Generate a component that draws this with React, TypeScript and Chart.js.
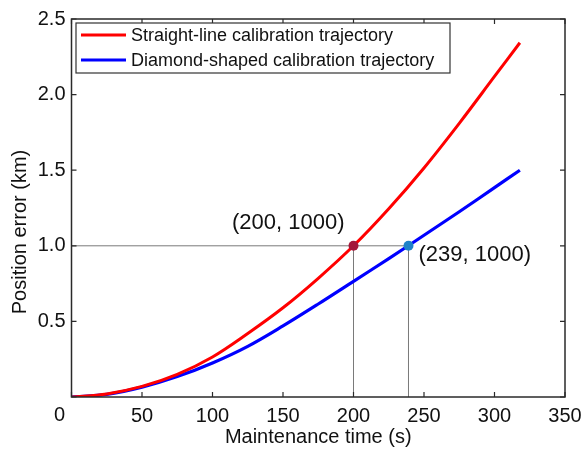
import React, { useEffect, useRef } from "react";
import { Chart, registerables } from "chart.js";

Chart.register(...registerables);

const timeRed = [0, 25, 50, 75, 100, 125, 150, 175, 200, 225, 250, 275, 300, 318];
const errRed = [0, 0.02, 0.07, 0.15, 0.265, 0.42, 0.59, 0.785, 1.0, 1.245, 1.515, 1.81, 2.12, 2.343];
const timeBlue = [0, 25, 50, 75, 100, 125, 150, 175, 200, 225, 250, 275, 300, 318];
const errBlue = [0, 0.017, 0.065, 0.135, 0.225, 0.335, 0.47, 0.615, 0.765, 0.915, 1.07, 1.225, 1.385, 1.5];
const markerTimes = [200, 239];
const markerErr = [1.0, 1.0];
const markerLabels = ["(200, 1000)", "(239, 1000)"];
const seriesNames = ["Straight-line calibration trajectory", "Diamond-shaped calibration trajectory"];
const xTicks = [0, 50, 100, 150, 200, 250, 300, 350];
const yTicks = [0, 0.5, 1.0, 1.5, 2.0, 2.5];

const FONT = "'Liberation Sans', Arial, sans-serif";

const decorPlugin = {
  id: "decor",
  afterDraw(chart: any) {
    const { ctx, chartArea, scales } = chart;
    const xs = scales.x;
    const ys = scales.y;
    const { left, right, top, bottom } = chartArea;
    ctx.save();
    ctx.strokeStyle = "#2a2a2a";
    ctx.lineWidth = 1.5;
    ctx.strokeRect(left, top, right - left, bottom - top);
    ctx.lineWidth = 1.2;
    const tl = 5;
    ctx.beginPath();
    xTicks.forEach((v) => {
      const px = xs.getPixelForValue(v);
      ctx.moveTo(px, bottom);
      ctx.lineTo(px, bottom - tl);
      ctx.moveTo(px, top);
      ctx.lineTo(px, top + tl);
    });
    yTicks.forEach((v) => {
      const py = ys.getPixelForValue(v);
      ctx.moveTo(left, py);
      ctx.lineTo(left + tl, py);
      ctx.moveTo(right, py);
      ctx.lineTo(right - tl, py);
    });
    ctx.stroke();

    ctx.fillStyle = "#111111";
    ctx.font = `20px ${FONT}`;
    ctx.textAlign = "center";
    ctx.textBaseline = "middle";
    ctx.fillText("0", xs.getPixelForValue(0) - 12, bottom + 18);

    ctx.fillText("Maintenance time (s)", (left + right) / 2, 437);
    ctx.save();
    ctx.translate(20, 232);
    ctx.rotate(-Math.PI / 2);
    ctx.fillText("Position error (km)", 0, 0);
    ctx.restore();

    ctx.font = `22px ${FONT}`;
    const p0x = xs.getPixelForValue(markerTimes[0]);
    const p0y = ys.getPixelForValue(markerErr[0]);
    ctx.textAlign = "right";
    ctx.fillText(markerLabels[0], p0x - 9, p0y - 23);
    const p1x = xs.getPixelForValue(markerTimes[1]);
    const p1y = ys.getPixelForValue(markerErr[1]);
    ctx.textAlign = "left";
    ctx.fillText(markerLabels[1], p1x + 10, p1y + 9);

    const lx = left + 4.5, ly = top + 4, lw = 374, lh = 50;
    ctx.fillStyle = "#ffffff";
    ctx.fillRect(lx, ly, lw, lh);
    ctx.strokeStyle = "#333333";
    ctx.lineWidth = 1.2;
    ctx.strokeRect(lx, ly, lw, lh);
    ctx.font = `18px ${FONT}`;
    ctx.textAlign = "left";
    ctx.textBaseline = "middle";
    const legendDs = [chart.data.datasets[2], chart.data.datasets[3]];
    legendDs.forEach((ds: any, i: number) => {
      const ry = ly + 12 + i * 25;
      ctx.strokeStyle = ds.borderColor;
      ctx.lineWidth = 3;
      ctx.beginPath();
      ctx.moveTo(lx + 5, ry);
      ctx.lineTo(lx + 50, ry);
      ctx.stroke();
      ctx.fillStyle = "#111111";
      ctx.fillText(ds.label, lx + 55, ry + 1);
    });
    ctx.restore();
  },
};

export default function App() {
  const ref = useRef<HTMLCanvasElement | null>(null);
  useEffect(() => {
    if (!ref.current) return;
    const chart = new Chart(ref.current, {
      type: "line",
      data: {
        datasets: [
          {
            label: "m1",
            data: [{ x: markerTimes[0], y: markerErr[0] }],
            showLine: false,
            pointRadius: 5,
            pointBackgroundColor: "#a3173a",
            pointBorderColor: "#a3173a",
            pointBorderWidth: 0,
          },
          {
            label: "m2",
            data: [{ x: markerTimes[1], y: markerErr[1] }],
            showLine: false,
            pointRadius: 5,
            pointBackgroundColor: "#1f82c8",
            pointBorderColor: "#1f82c8",
            pointBorderWidth: 0,
          },
          {
            label: seriesNames[0],
            data: timeRed.map((t, i) => ({ x: t, y: errRed[i] })),
            borderColor: "#ff0000",
            borderWidth: 3,
            pointRadius: 0,
            tension: 0.35,
            fill: false,
          },
          {
            label: seriesNames[1],
            data: timeBlue.map((t, i) => ({ x: t, y: errBlue[i] })),
            borderColor: "#0000ff",
            borderWidth: 3.2,
            pointRadius: 0,
            tension: 0.35,
            fill: false,
          },
          {
            label: "h",
            data: [{ x: 0, y: markerErr[0] }, { x: markerTimes[1], y: markerErr[1] }],
            borderColor: "#7a7a7a",
            borderWidth: 1,
            pointRadius: 0,
          },
          {
            label: "v1",
            data: [{ x: markerTimes[0], y: 0 }, { x: markerTimes[0], y: markerErr[0] }],
            borderColor: "#7a7a7a",
            borderWidth: 1,
            pointRadius: 0,
          },
          {
            label: "v2",
            data: [{ x: markerTimes[1], y: 0 }, { x: markerTimes[1], y: markerErr[1] }],
            borderColor: "#7a7a7a",
            borderWidth: 1,
            pointRadius: 0,
          },
        ],
      },
      options: {
        animation: false,
        responsive: false,
        maintainAspectRatio: false,
        layout: { padding: { left: 0, right: 18, top: 19, bottom: 0 } },
        plugins: { legend: { display: false }, tooltip: { enabled: false } },
        scales: {
          x: {
            type: "linear",
            min: 0,
            max: 350,
            afterFit: (s: any) => {
              s.height = 53;
              s.paddingRight = 0;
              s.paddingLeft = 0;
            },
            afterBuildTicks: (s: any) => {
              s.ticks = xTicks.map((v) => ({ value: v }));
            },
            ticks: {
              font: { family: FONT, size: 20 },
              color: "#111111",
              padding: 7,
              maxRotation: 0,
              autoSkip: false,
              callback: (v: any) => (Number(v) === 0 ? "" : String(v)),
            },
            grid: { display: false, drawTicks: false },
            border: { display: false },
          },
          y: {
            type: "linear",
            min: 0,
            max: 2.5,
            afterFit: (s: any) => {
              s.width = 71.5;
              s.paddingTop = 0;
              s.paddingBottom = 0;
            },
            afterBuildTicks: (s: any) => {
              s.ticks = yTicks.map((v) => ({ value: v }));
            },
            ticks: {
              font: { family: FONT, size: 20 },
              color: "#111111",
              padding: 6,
              autoSkip: false,
              callback: (v: any) => (Number(v) === 0 ? "" : Number(v).toFixed(1)),
            },
            grid: { display: false, drawTicks: false },
            border: { display: false },
          },
        },
      },
      plugins: [decorPlugin],
    });
    return () => chart.destroy();
  }, []);
  return (
    <div style={{ position: "fixed", left: 0, top: 0, width: 583, height: 450, background: "#fff" }}>
      <canvas ref={ref} width={583} height={450} style={{ width: 583, height: 450 }} />
    </div>
  );
}
